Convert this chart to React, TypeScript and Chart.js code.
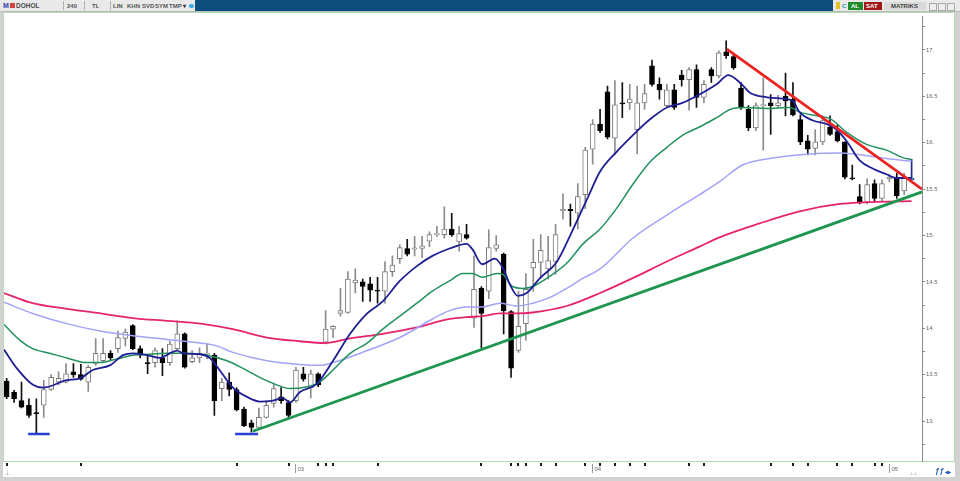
import React, { useEffect, useRef } from 'react';
import { Chart, registerables } from 'chart.js';

Chart.register(...registerables);

// ---- candle data (4h bars) ----
const opens = [13.43,13.31,13.22,13.17,13.09,13.17,13.34,13.42,13.42,13.53,13.50,13.42,13.62,13.65,13.73,13.78,13.89,14.03,13.78,13.63,13.63,13.68,13.63,13.78,13.94,13.64,13.68,13.72,13.71,13.35,13.42,13.34,13.13,12.98,12.93,13.04,13.19,13.26,13.20,13.22,13.51,13.36,13.51,13.85,13.99,14.16,14.17,14.49,14.50,14.48,14.41,14.40,14.61,14.75,14.86,14.86,14.86,14.94,15.01,15.01,15.07,14.93,15.01,14.11,14.43,14.40,14.86,14.80,14.18,13.76,14.05,14.65,14.71,14.64,14.72,15.27,15.28,15.24,15.44,15.93,16.20,16.55,16.05,16.43,16.43,16.14,16.43,16.83,16.63,16.40,16.57,16.73,16.68,16.79,16.49,16.79,16.72,16.98,16.93,16.59,16.36,16.16,16.40,16.43,16.40,16.50,16.47,16.25,16.02,15.94,16.01,16.17,16.12,16.01,15.62,15.42,15.36,15.56,15.40,15.62,15.62,15.48,15.60];
const highs = [13.46,13.33,13.42,13.24,13.24,13.44,13.50,13.53,13.62,13.62,13.61,13.60,13.89,13.89,13.76,13.97,13.99,14.04,13.81,13.71,13.79,13.78,13.86,14.08,13.95,13.76,13.79,13.83,13.73,13.46,13.52,13.36,13.15,13.01,13.14,13.22,13.41,13.36,13.22,13.58,13.58,13.55,13.52,14.19,14.03,14.43,14.61,14.64,14.53,14.55,14.55,14.72,14.78,14.90,14.96,14.99,14.99,15.04,15.10,15.31,15.24,15.10,15.12,14.78,14.45,15.06,15.00,14.81,14.19,14.40,14.59,14.96,15.01,14.99,15.12,15.45,15.34,15.56,15.95,16.25,16.36,16.61,16.67,16.65,16.63,16.61,16.63,16.89,16.70,16.63,16.63,16.78,16.81,16.84,16.67,16.81,16.99,17.10,16.95,16.65,16.40,16.43,16.70,16.52,16.51,16.75,16.65,16.30,16.08,16.14,16.29,16.29,16.19,16.01,15.76,15.55,15.61,15.60,15.60,15.66,15.67,15.67,15.82];
const lows = [13.24,13.20,13.14,13.04,12.86,13.04,13.33,13.39,13.41,13.47,13.44,13.32,13.60,13.63,13.66,13.74,13.81,13.77,13.68,13.51,13.58,13.49,13.60,13.76,13.57,13.63,13.63,13.67,13.06,13.22,13.27,13.11,12.94,12.88,12.92,13.03,13.15,13.19,13.03,13.20,13.43,13.25,13.37,13.83,13.90,14.13,14.16,14.38,14.29,14.29,14.27,14.27,14.56,14.70,14.78,14.78,14.76,14.88,14.99,14.97,14.99,14.83,14.96,14.01,13.79,14.32,14.83,13.94,13.47,13.74,13.87,14.40,14.54,14.53,14.58,15.18,15.10,15.07,15.29,15.77,16.11,16.04,15.88,16.27,16.36,15.88,16.36,16.61,16.47,16.38,16.36,16.61,16.35,16.38,16.43,16.65,16.70,16.91,16.79,16.36,16.13,16.13,15.92,16.09,16.38,16.29,16.29,15.98,15.87,15.87,15.98,16.08,16.01,15.61,15.60,15.34,15.34,15.36,15.37,15.58,15.40,15.44,15.60];
const closes = [13.26,13.24,13.15,13.06,13.08,13.34,13.47,13.46,13.51,13.50,13.45,13.58,13.73,13.73,13.68,13.90,13.96,13.78,13.71,13.62,13.76,13.63,13.83,13.94,13.58,13.68,13.73,13.73,13.22,13.42,13.34,13.12,12.95,12.93,13.04,13.17,13.35,13.22,13.06,13.55,13.45,13.51,13.39,13.99,14.02,14.19,14.53,14.52,14.45,14.41,14.40,14.61,14.68,14.87,14.80,14.86,14.89,15.01,15.02,15.07,15.01,15.02,14.97,14.42,14.16,14.87,14.90,14.19,13.57,14.02,14.42,14.71,14.84,14.73,15.01,15.28,15.27,15.42,15.92,16.20,16.13,16.06,16.41,16.42,16.47,16.43,16.53,16.63,16.57,16.57,16.38,16.68,16.79,16.49,16.63,16.72,16.97,16.94,16.81,16.38,16.16,16.40,16.41,16.40,16.43,16.45,16.30,16.01,15.93,16.01,16.24,16.09,16.02,15.63,15.61,15.35,15.55,15.40,15.56,15.62,15.43,15.62,15.62];

// ---- moving averages: [bar index, value] ----
const maFast = [[-0.36,13.77],[1.35,13.57],[3.54,13.39],[4.9,13.36],[8.1,13.44],[9.9,13.46],[11.6,13.55],[13.9,13.60],[15.7,13.71],[17.0,13.73],[18.9,13.71],[20.7,13.68],[22.0,13.73],[23.0,13.76],[23.8,13.73],[26.1,13.72],[27.4,13.68],[28.7,13.55],[30.5,13.36],[32.4,13.26],[34.1,13.21],[35.9,13.22],[37.2,13.25],[38.2,13.20],[39.5,13.31],[41.8,13.40],[44.0,13.65],[46.3,13.94],[48.6,14.16],[50.7,14.29],[53.0,14.51],[55.3,14.67],[57.4,14.78],[59.7,14.86],[62.0,14.91],[62.8,14.85],[64.1,14.69],[65.8,14.75],[66.9,14.65],[67.8,14.48],[68.9,14.35],[70.1,14.38],[71.9,14.54],[74.2,14.72],[76.2,15.04],[78.4,15.42],[80.0,15.69],[82.2,15.90],[84.4,16.08],[86.7,16.25],[89.0,16.38],[91.1,16.43],[93.4,16.52],[95.7,16.63],[97.3,16.73],[99.1,16.63],[100.2,16.54],[102.5,16.49],[105.2,16.47],[106.0,16.45],[106.9,16.33],[108.7,16.24],[110.6,16.20],[111.9,16.14],[113.3,16.01],[115.0,15.81],[116.8,15.72],[118.6,15.66],[119.9,15.62],[122.0,15.62]];
const maMid = [[-0.36,14.04],[1.8,13.87],[3.5,13.78],[5.8,13.73],[8.1,13.68],[10.8,13.63],[12.6,13.63],[14.9,13.67],[17.0,13.71],[19.3,13.72],[21.6,13.73],[23.8,13.73],[27.0,13.71],[29.7,13.65],[31.8,13.57],[34.1,13.47],[36.4,13.39],[38.2,13.35],[40.5,13.37],[42.2,13.42],[44.0,13.55],[46.3,13.73],[48.6,13.84],[50.7,13.99],[53.0,14.13],[55.3,14.27],[57.4,14.40],[59.7,14.51],[61.5,14.59],[62.8,14.59],[64.1,14.55],[66.1,14.59],[66.9,14.58],[68.2,14.45],[69.6,14.43],[70.9,14.45],[73.2,14.56],[75.5,14.70],[77.7,14.91],[80.0,15.07],[82.2,15.29],[84.4,15.55],[86.7,15.79],[89.0,15.95],[91.1,16.08],[93.4,16.17],[95.7,16.27],[97.9,16.37],[99.8,16.38],[102.5,16.37],[105.6,16.38],[106.9,16.33],[109.2,16.29],[111.0,16.26],[113.3,16.11],[116.0,15.98],[118.6,15.92],[120.8,15.84],[122.0,15.82]];
const maSlow = [[-0.36,14.28],[3.5,14.16],[8.1,14.05],[12.6,13.97],[17.0,13.92],[21.6,13.88],[26.1,13.84],[28.3,13.81],[30.5,13.74],[35.1,13.65],[39.5,13.61],[42.2,13.60],[44.0,13.63],[48.6,13.76],[53.0,13.90],[57.4,14.10],[59.7,14.19],[62.0,14.23],[64.2,14.23],[66.5,14.27],[68.8,14.24],[70.9,14.27],[73.2,14.33],[75.5,14.43],[77.7,14.54],[80.0,14.64],[84.4,14.97],[89.0,15.22],[93.4,15.44],[96.1,15.58],[99.2,15.76],[103.8,15.84],[108.3,15.88],[112.3,15.89],[115.0,15.87],[118.6,15.83],[122.0,15.80]];
const maLong = [[-0.36,14.38],[3.5,14.27],[8.1,14.21],[12.6,14.16],[17.0,14.11],[21.6,14.08],[26.1,14.05],[30.5,13.99],[35.1,13.90],[39.5,13.86],[42.9,13.84],[46.3,13.89],[50.7,13.94],[55.3,14.01],[59.7,14.10],[62.0,14.12],[64.2,14.13],[66.5,14.16],[68.8,14.16],[70.9,14.17],[75.5,14.24],[80.0,14.38],[84.4,14.54],[89.0,14.72],[93.4,14.88],[96.1,14.98],[101.5,15.13],[106.9,15.26],[112.3,15.34],[116.4,15.36],[122.0,15.37]];

// ---- drawn trend lines / support marks ----
const redTrend = [[97.1,17.01],[123.4,15.50]];
const greenTrend = [[33.2,12.89],[123.4,15.47]];
const support1 = [[2.9,12.86],[5.8,12.86]];
const support2 = [[30.8,12.86],[33.9,12.86]];

// ---- axes ----
const yMin = 12.569;
const yMax = 17.36;
const xMin = -0.36;
const xMax = 123.4;
const xTickIdx = [0,10,31,38,42,43,44,50,64,68,69,70,72,74,78,80,82,84,86,92,94,103,106,108,112,114,117,118];
const periodIdx = [38.9, 78.9, 118.9];
const periodLabels = ['03', '04', '05'];

const FONT = '"Liberation Sans", Arial, sans-serif';

const isUp = (i: number) => closes[i] >= opens[i];
const lastIdx = opens.length - 1;

const xMarksPlugin = {
  id: 'xMarks',
  afterDraw(chart: any) {
    const { ctx, chartArea, scales } = chart;
    const xs = scales.x;
    const b = chartArea.bottom;
    ctx.save();
    ctx.fillStyle = '#1a1a1a';
    for (const i of xTickIdx) {
      const px = Math.round(xs.getPixelForValue(i));
      ctx.fillRect(px - 1, b + 2, 2, 3);
    }
    ctx.strokeStyle = '#9a9a9a';
    ctx.lineWidth = 1;
    ctx.font = '6px ' + FONT;
    ctx.textBaseline = 'middle';
    periodIdx.forEach((v, k) => {
      const px = Math.round(xs.getPixelForValue(v)) + 0.5;
      ctx.beginPath();
      ctx.moveTo(px, b + 3);
      ctx.lineTo(px, b + 12);
      ctx.stroke();
      ctx.fillStyle = '#666';
      ctx.fillText(periodLabels[k], px + 2, b + 8.5);
    });
    ctx.restore();
  },
};

function lineDs(pts: number[][], color: string, width: number, order: number, smooth = true) {
  return {
    type: 'line' as const,
    data: pts.map(([x, y]) => ({ x, y })),
    borderColor: color,
    borderWidth: width,
    pointRadius: 0,
    fill: false,
    cubicInterpolationMode: smooth ? ('monotone' as const) : ('default' as const),
    tension: 0,
    order,
  };
}

export default function App() {
  const ref = useRef<HTMLCanvasElement>(null);

  useEffect(() => {
    document.body.style.margin = '0';
    const canvas = ref.current!;
    const wickData = opens.map((_, i) => ({ x: i, y: [lows[i], highs[i]] }));
    const bodyData = opens.map((o, i) => {
      let lo = Math.min(o, closes[i]);
      let hi = Math.max(o, closes[i]);
      if (hi - lo < 0.012) {
        const m = (hi + lo) / 2;
        lo = m - 0.006;
        hi = m + 0.006;
      }
      return { x: i, y: [lo, hi] };
    });
    const chart = new Chart(canvas, {
      type: 'bar',
      data: {
        datasets: [
          {
            type: 'bar',
            data: wickData as any,
            backgroundColor: (c: any) => (c.dataIndex === lastIdx ? '#1a2a80' : isUp(c.dataIndex) ? '#8c8c8c' : '#111'),
            borderWidth: 0,
            barThickness: 1,
            grouped: false,
            order: 6,
          },
          {
            type: 'bar',
            data: bodyData as any,
            backgroundColor: (c: any) => (c.dataIndex === lastIdx ? '#3fd0e6' : isUp(c.dataIndex) ? '#ffffff' : '#000000'),
            borderColor: (c: any) => (c.dataIndex === lastIdx ? '#1a2a80' : isUp(c.dataIndex) ? '#7d7d7d' : '#000000'),
            borderWidth: 1,
            borderSkipped: false,
            barThickness: 5,
            grouped: false,
            order: 5,
          },
          lineDs(maLong, '#e6246e', 1.8, 4),
          lineDs(maSlow, '#a3a3f7', 1.5, 3),
          lineDs(maMid, '#23915e', 1.5, 2),
          lineDs(maFast, '#1f1f95', 1.8, 1),
          lineDs(greenTrend, '#1f9650', 2.8, 0, false),
          lineDs(redTrend, '#ee2222', 2.8, 0, false),
          lineDs(support1, '#2a3fd6', 2.5, 0, false),
          lineDs(support2, '#2a3fd6', 2.5, 0, false),
        ] as any,
      },
      options: {
        responsive: false,
        devicePixelRatio: 1,
        animation: false,
        events: [],
        layout: { padding: { left: 1, top: 1, right: 0, bottom: 16 }, autoPadding: false } as any,
        plugins: { legend: { display: false }, tooltip: { enabled: false } },
        scales: {
          x: {
            type: 'linear',
            min: xMin,
            max: xMax,
            offset: false,
            display: false,
            grid: { offset: false },
          },
          y: {
            type: 'linear',
            position: 'right',
            min: yMin,
            max: yMax,
            afterFit: (s: any) => {
              s.width = 33;
            },
            border: { display: true, color: '#8a8a8a', width: 1 },
            grid: {
              drawOnChartArea: false,
              drawTicks: true,
              tickLength: 3,
              tickColor: '#8a8a8a',
            },
            ticks: {
              stepSize: 0.25,
              includeBounds: false,
              padding: 1,
              color: '#666',
              font: { size: 6, family: FONT },
              callback: (v: any) => {
                const n = Number(v);
                const r = Math.round(n * 2) / 2;
                if (Math.abs(n - r) > 1e-6) return '';
                return Number.isInteger(r) ? r + '.' : String(r);
              },
            },
          },
        },
      } as any,
      plugins: [xMarksPlugin],
    });
    return () => chart.destroy();
  }, []);

  const tb = (left: number, text: string, extra: React.CSSProperties = {}) => (
    <span
      style={{
        position: 'absolute',
        left,
        top: 2,
        fontSize: 6,
        lineHeight: '8px',
        fontFamily: FONT,
        fontWeight: 'bold',
        color: '#555',
        whiteSpace: 'nowrap',
        ...extra,
      }}
    >
      {text}
    </span>
  );
  const sep = (left: number) => (
    <div style={{ position: 'absolute', left, top: 1, width: 1, height: 9, background: '#b0b0b0' }} />
  );

  return (
    <div style={{ position: 'relative', width: 960, height: 481, background: '#d2d2d2', overflow: 'hidden' }}>
      {/* top toolbar */}
      <div style={{ position: 'absolute', left: 0, top: 0, width: 960, height: 11, background: '#e9e9e9', borderBottom: '1px solid #b8b8b8' }} />
      <div style={{ position: 'absolute', left: 195, top: 0, width: 638, height: 11, background: '#0f4e7c' }} />
      {tb(3, 'M', { color: '#2340a8', fontSize: 7 })}
      <div style={{ position: 'absolute', left: 10, top: 3, width: 5, height: 5, background: '#d84040' }} />
      {tb(16, 'DOHOL', { color: '#4a4a4a', fontSize: 6.5 })}
      {sep(63)}
      {tb(67, '240')}
      {sep(84)}
      {tb(92, 'TL')}
      {sep(110)}
      {tb(113, 'LIN')}
      {tb(127, 'KHN')}
      {tb(142, 'SVD')}
      {tb(155, 'SYM')}
      {tb(169, 'TMP')}
      {tb(183, '▾', { color: '#333' })}
      <div style={{ position: 'absolute', left: 189, top: 4, width: 5, height: 4, background: '#3aa8e0', borderRadius: 2 }} />
      <div style={{ position: 'absolute', left: 836, top: 2, width: 4, height: 7, background: '#e3c12a' }} />
      {tb(842, 'C', { color: '#1a9aa0' })}
      <div style={{ position: 'absolute', left: 848, top: 2, width: 15, height: 8, background: '#1f8a2a' }} />
      {tb(851, 'AL', { color: '#fff', top: 2 })}
      <div style={{ position: 'absolute', left: 864, top: 2, width: 18, height: 8, background: '#a01818' }} />
      {tb(866, 'SAT', { color: '#fff', top: 2 })}
      <div style={{ position: 'absolute', left: 884, top: 2, width: 42, height: 8, background: '#dadada' }} />
      {tb(891, 'MATRIKS', { color: '#444', top: 2 })}
      <div style={{ position: 'absolute', left: 929, top: 3, width: 6, height: 6, border: '1px solid #aaa', background: '#eee' }} />
      <div style={{ position: 'absolute', left: 938, top: 3, width: 6, height: 6, border: '1px solid #aaa', background: '#eee' }} />
      <div style={{ position: 'absolute', left: 947, top: 3, width: 6, height: 6, border: '1px solid #aaa', background: '#eee' }} />

      {/* white chart panel */}
      <div style={{ position: 'absolute', left: 3, top: 12, width: 952, height: 465, background: '#ffffff' }} />
      <div
        style={{
          position: 'absolute',
          left: 3,
          top: 12,
          width: 952,
          height: 450,
          boxSizing: 'border-box',
          border: '1px solid #b6dcb6',
        }}
      />
      <canvas
        ref={ref}
        width={952}
        height={465}
        style={{ position: 'absolute', left: 3, top: 12, width: 952, height: 465 }}
      />
      {/* bottom icons */}
      {tb(5, '⊥', { top: 469, color: '#888', fontWeight: 'normal' })}
      {tb(909, '⊥⊥', { top: 469, fontSize: 5, color: '#999', fontWeight: 'normal' })}
      {tb(935, 'ƒƒ', { top: 467, fontSize: 8, color: '#2a5cb0', fontStyle: 'italic' })}
      {tb(945, '◂▸', { top: 468, color: '#2a5cb0' })}
    </div>
  );
}
